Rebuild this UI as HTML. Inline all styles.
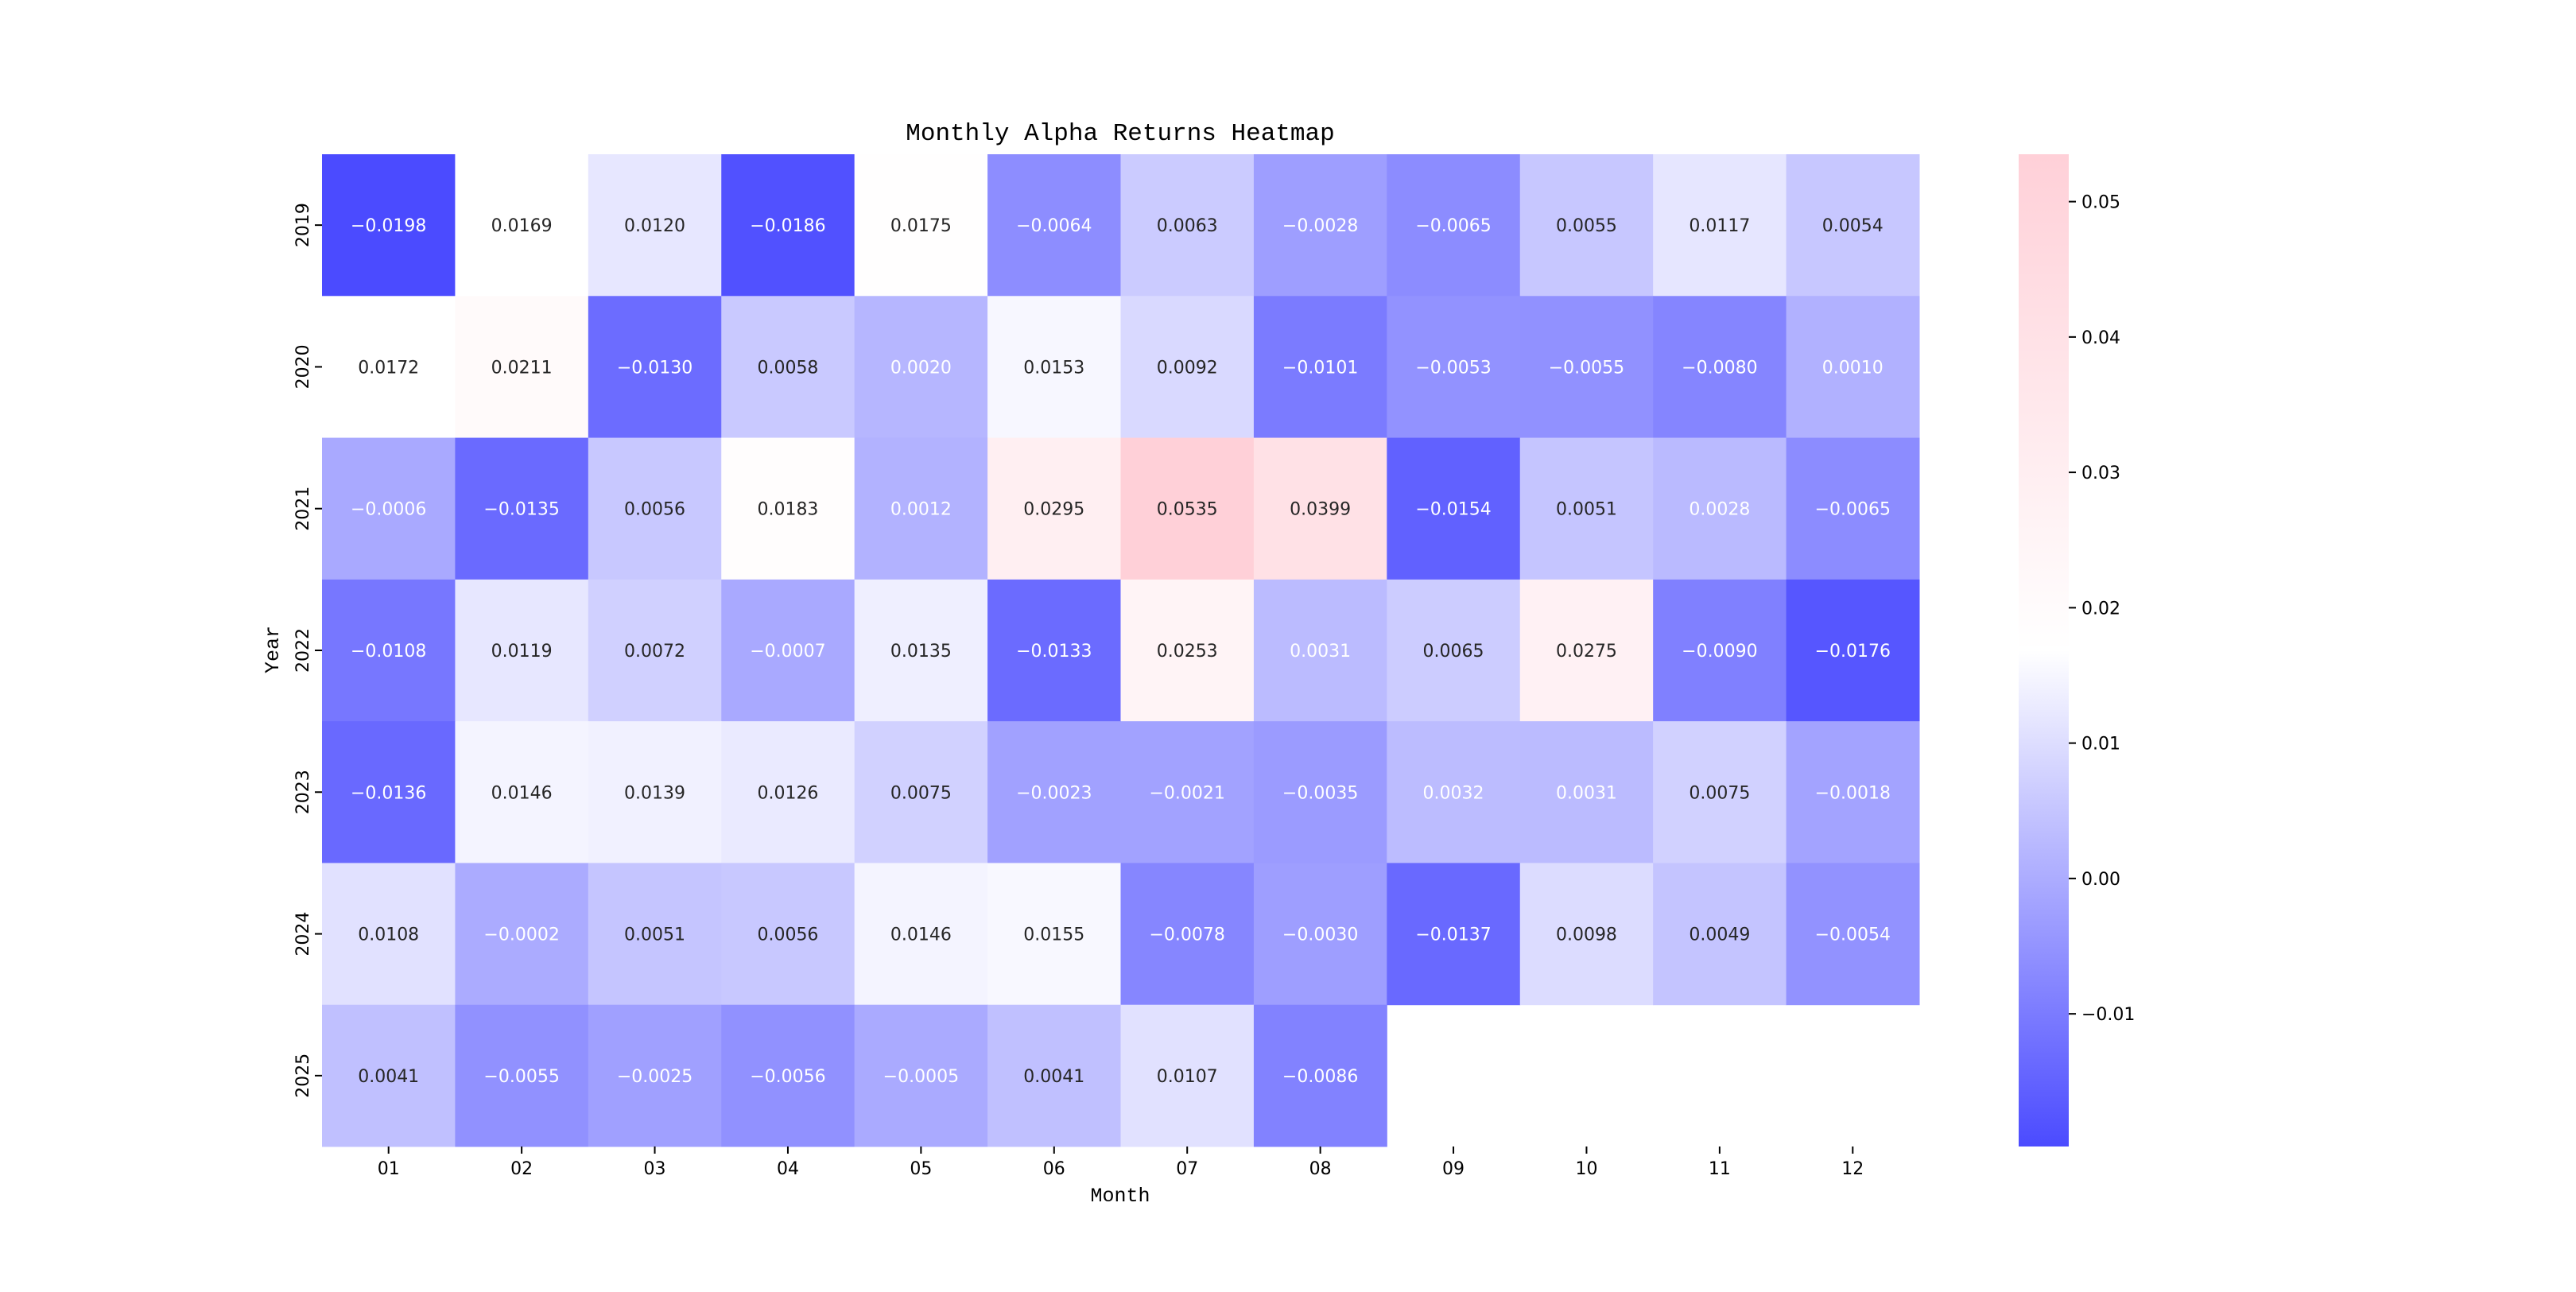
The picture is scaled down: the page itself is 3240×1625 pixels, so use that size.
<!DOCTYPE html>
<html><head><meta charset="utf-8"><style>
html,body{margin:0;padding:0;background:#fff;}
svg text{font-family:"DejaVu Sans","Liberation Sans",sans-serif;}
svg text.mono{font-family:"Liberation Mono","DejaVu Sans Mono",monospace;}
</style></head><body>
<svg id="chart" width="3240" height="1620" xmlns="http://www.w3.org/2000/svg">
<defs><linearGradient id="cbg" x1="0" y1="1" x2="0" y2="0">
<stop offset="0" stop-color="#4b4bff"/><stop offset="0.5" stop-color="#ffffff"/><stop offset="1" stop-color="#ffd0d8"/>
</linearGradient></defs>
<text class="mono" x="1409" y="176" text-anchor="middle" font-size="31">Monthly Alpha Returns Heatmap</text>
<g id="cells"></g>
<g id="axes"></g>
<text class="mono" x="1409" y="1511" text-anchor="middle" font-size="25">Month</text>
<text class="mono" transform="translate(350,817) rotate(-90)" text-anchor="middle" font-size="25">Year</text>
<rect x="2539" y="194" width="63" height="1248" fill="url(#cbg)"/>
<g id="cbar"></g>
</svg>
<script>
const months = ["01","02","03","04","05","06","07","08","09","10","11","12"];
const years = ["2019","2020","2021","2022","2023","2024","2025"];
const r2019 = [-0.0198,0.0169,0.0120,-0.0186,0.0175,-0.0064,0.0063,-0.0028,-0.0065,0.0055,0.0117,0.0054];
const r2020 = [0.0172,0.0211,-0.0130,0.0058,0.0020,0.0153,0.0092,-0.0101,-0.0053,-0.0055,-0.0080,0.0010];
const r2021 = [-0.0006,-0.0135,0.0056,0.0183,0.0012,0.0295,0.0535,0.0399,-0.0154,0.0051,0.0028,-0.0065];
const r2022 = [-0.0108,0.0119,0.0072,-0.0007,0.0135,-0.0133,0.0253,0.0031,0.0065,0.0275,-0.0090,-0.0176];
const r2023 = [-0.0136,0.0146,0.0139,0.0126,0.0075,-0.0023,-0.0021,-0.0035,0.0032,0.0031,0.0075,-0.0018];
const r2024 = [0.0108,-0.0002,0.0051,0.0056,0.0146,0.0155,-0.0078,-0.0030,-0.0137,0.0098,0.0049,-0.0054];
const r2025 = [0.0041,-0.0055,-0.0025,-0.0056,-0.0005,0.0041,0.0107,-0.0086];
const rows = [r2019,r2020,r2021,r2022,r2023,r2024,r2025];
const cbTicks = [-0.01,0.00,0.01,0.02,0.03,0.04,0.05];
const cbLabels = ["\u22120.01","0.00","0.01","0.02","0.03","0.04","0.05"];
const vmin=-0.0198, vmax=0.0535;

const L=405,R=2414,T=194,B=1442;
const cw=(R-L)/months.length, ch=(B-T)/years.length;
const xPos=i=>L+i*cw, yPos=j=>T+j*ch;
const cbY=v=>B-(v-vmin)/(vmax-vmin)*(B-T);
const NS="http://www.w3.org/2000/svg";
function color(v){
  const mid=(vmin+vmax)/2;
  let r,g,b;
  if(v<=mid){const t=Math.max(0,(mid-v)/(mid-vmin));r=255-t*(255-75);g=r;b=255;}
  else{const t=Math.min(1,(v-mid)/(vmax-mid));r=255;g=255-t*(255-208);b=255-t*(255-216);}
  return [Math.round(r),Math.round(g),Math.round(b)];
}
function lum(c){const f=x=>{x/=255;return x<=0.03928?x/12.92:Math.pow((x+0.055)/1.055,2.4);};return 0.2126*f(c[0])+0.7152*f(c[1])+0.0722*f(c[2]);}
const cells=document.getElementById('cells');
rows.forEach((row,j)=>{row.forEach((v,i)=>{
  const c=color(v);
  const rc=document.createElementNS(NS,'rect');
  rc.setAttribute('x',xPos(i));rc.setAttribute('y',yPos(j));
  rc.setAttribute('width',cw+0.5);rc.setAttribute('height',ch+0.5);
  rc.setAttribute('fill',`rgb(${c[0]},${c[1]},${c[2]})`);
  
  
  cells.appendChild(rc);
  const t=document.createElementNS(NS,'text');
  t.setAttribute('x',xPos(i)+cw/2);t.setAttribute('y',yPos(j)+ch/2+8);
  t.setAttribute('text-anchor','middle');t.setAttribute('font-size','22');
  t.setAttribute('fill',lum(c)>0.55?'#262626':'#ffffff');
  t.textContent=(v<0?'\u2212':'')+Math.abs(v).toFixed(4);
  
  
  cells.appendChild(t);
});});
const axes=document.getElementById('axes');
months.forEach((m,i)=>{
  const x=xPos(i)+cw/2;
  const ln=document.createElementNS(NS,'line');
  ln.setAttribute('x1',x);ln.setAttribute('x2',x);ln.setAttribute('y1',B);ln.setAttribute('y2',B+9);
  ln.setAttribute('stroke','#000');ln.setAttribute('stroke-width','2');
  
  
  axes.appendChild(ln);
  const t=document.createElementNS(NS,'text');
  t.setAttribute('x',x);t.setAttribute('y',B+35);t.setAttribute('text-anchor','middle');t.setAttribute('font-size','22');
  t.textContent=m;
  
  
  axes.appendChild(t);
});
years.forEach((yv,j)=>{
  const y=yPos(j)+ch/2;
  const ln=document.createElementNS(NS,'line');
  ln.setAttribute('x1',L-9);ln.setAttribute('x2',L);ln.setAttribute('y1',y);ln.setAttribute('y2',y);
  ln.setAttribute('stroke','#000');ln.setAttribute('stroke-width','2');
  
  
  axes.appendChild(ln);
  const t=document.createElementNS(NS,'text');
  t.setAttribute('transform',`translate(${L-17},${y}) rotate(-90)`);
  t.setAttribute('text-anchor','middle');t.setAttribute('font-size','22');
  t.textContent=yv;
  
  
  axes.appendChild(t);
});
const cb=document.getElementById('cbar');
cbTicks.forEach((v,k)=>{
  const y=cbY(v);
  const ln=document.createElementNS(NS,'line');
  ln.setAttribute('x1',2602);ln.setAttribute('x2',2611);ln.setAttribute('y1',y);ln.setAttribute('y2',y);
  ln.setAttribute('stroke','#000');ln.setAttribute('stroke-width','2');
  
  
  cb.appendChild(ln);
  const t=document.createElementNS(NS,'text');
  t.setAttribute('x',2618);t.setAttribute('y',y+8);t.setAttribute('font-size','22');
  t.textContent=cbLabels[k];
  
  
  cb.appendChild(t);
});
</script>
</body></html>
